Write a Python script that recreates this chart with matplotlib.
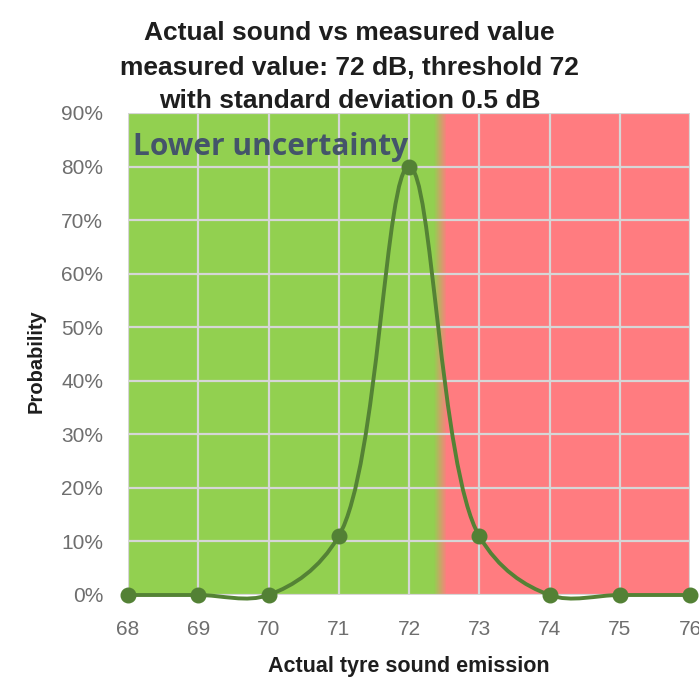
import numpy as np
import matplotlib.pyplot as plt
from matplotlib.path import Path
from matplotlib.patches import PathPatch
from matplotlib.colors import LinearSegmentedColormap
from matplotlib.ticker import FuncFormatter

sound = [68, 69, 70, 71, 72, 73, 74, 75, 76]
prob = [0, 0, 0, 0.11, 0.80, 0.11, 0, 0, 0]
threshold = 72.44

green = "#92d050"
red = "#ff7c80"
line_col = "#548235"
title_lines = ["Actual sound vs measured value",
               "measured value: 72 dB, threshold 72",
               "with standard deviation 0.5 dB"]


def catmull_rom(xs, ys, sx, sy, alpha=0.5):
    # centripetal catmull-rom worked out in screen-like units, returned as bezier path
    pts = np.column_stack([np.asarray(xs, float) * sx, np.asarray(ys, float) * sy])
    pts = np.vstack([2 * pts[0] - pts[1], pts, 2 * pts[-1] - pts[-2]])
    verts = [pts[1]]
    codes = [Path.MOVETO]
    for i in range(1, len(pts) - 2):
        p0, p1, p2, p3 = pts[i - 1], pts[i], pts[i + 1], pts[i + 2]
        d01 = np.linalg.norm(p1 - p0) ** alpha
        d12 = np.linalg.norm(p2 - p1) ** alpha
        d23 = np.linalg.norm(p3 - p2) ** alpha
        m1 = (p1 - p0) / d01 - (p2 - p0) / (d01 + d12) + (p2 - p1) / d12
        m2 = (p2 - p1) / d12 - (p3 - p1) / (d12 + d23) + (p3 - p2) / d23
        verts += [p1 + m1 * d12 / 3, p2 - m2 * d12 / 3, p2]
        codes += [Path.CURVE4] * 3
    verts = np.array(verts) / [sx, sy]
    return Path(verts, codes)


fig = plt.figure(figsize=(6.99, 6.77), dpi=100)
ax = fig.add_axes([128 / 699, 82 / 677, 562 / 699, 482 / 677])

# green below threshold, red above, with a short blend
cmap = LinearSegmentedColormap.from_list("zone", [green, red])
grad = np.linspace(0, 1, 200).reshape(1, -1)
ax.imshow(grad, cmap=cmap, aspect="auto", extent=[threshold - 0.09, threshold + 0.09, 0, 0.9],
          zorder=0, interpolation="bilinear")
ax.axvspan(68, threshold - 0.09, color=green, lw=0, zorder=0)
ax.axvspan(threshold + 0.09, 76, color=red, lw=0, zorder=0)

ax.set_xlim(68, 76)
ax.set_ylim(0, 0.9)
ax.set_xticks(sound)
ax.set_yticks(np.arange(0, 0.91, 0.1))
ax.yaxis.set_major_formatter(FuncFormatter(lambda v, p: f"{v * 100:.0f}%"))
ax.grid(True, color="#d6d6d6", lw=1.6, zorder=1)
ax.set_axisbelow(False)
for s in ax.spines.values():
    s.set_visible(False)
ax.tick_params(length=0, labelsize=15, labelcolor="#6e6e6e", labelfontfamily="Liberation Sans")
ax.tick_params(axis="y", pad=18)
ax.tick_params(axis="x", pad=18)

ax.add_patch(PathPatch(catmull_rom(sound, prob, 70, 535.6), fc="none", ec=line_col, lw=2.8,
                       zorder=3, clip_on=False, capstyle="round"))
ax.plot(sound, prob, "o", color="#538135", ms=10.5, zorder=4, clip_on=False)

ax.text(68.07, 0.8215, "Lower uncertainty", fontsize=21.5, fontweight="bold",
        color="#44546a", family="Open Sans", va="baseline", ha="left", zorder=5)

for line, base in zip(title_lines, [40, 75, 108]):
    fig.text(0.5, 1 - base / 677, line, ha="center", va="baseline", fontsize=19,
             fontweight="bold", family="Liberation Sans", color="#1e1e1e")
ax.set_xlabel("Actual tyre sound emission", fontsize=15.5, fontweight="bold",
              family="Liberation Sans", labelpad=12, color="#1e1e1e")
ax.set_ylabel("Probability", fontsize=14.5, fontweight="bold", family="Liberation Sans",
              color="#1e1e1e")
ax.yaxis.set_label_coords(-0.146, 0.485)

fig.savefig("out.png", dpi=100)
